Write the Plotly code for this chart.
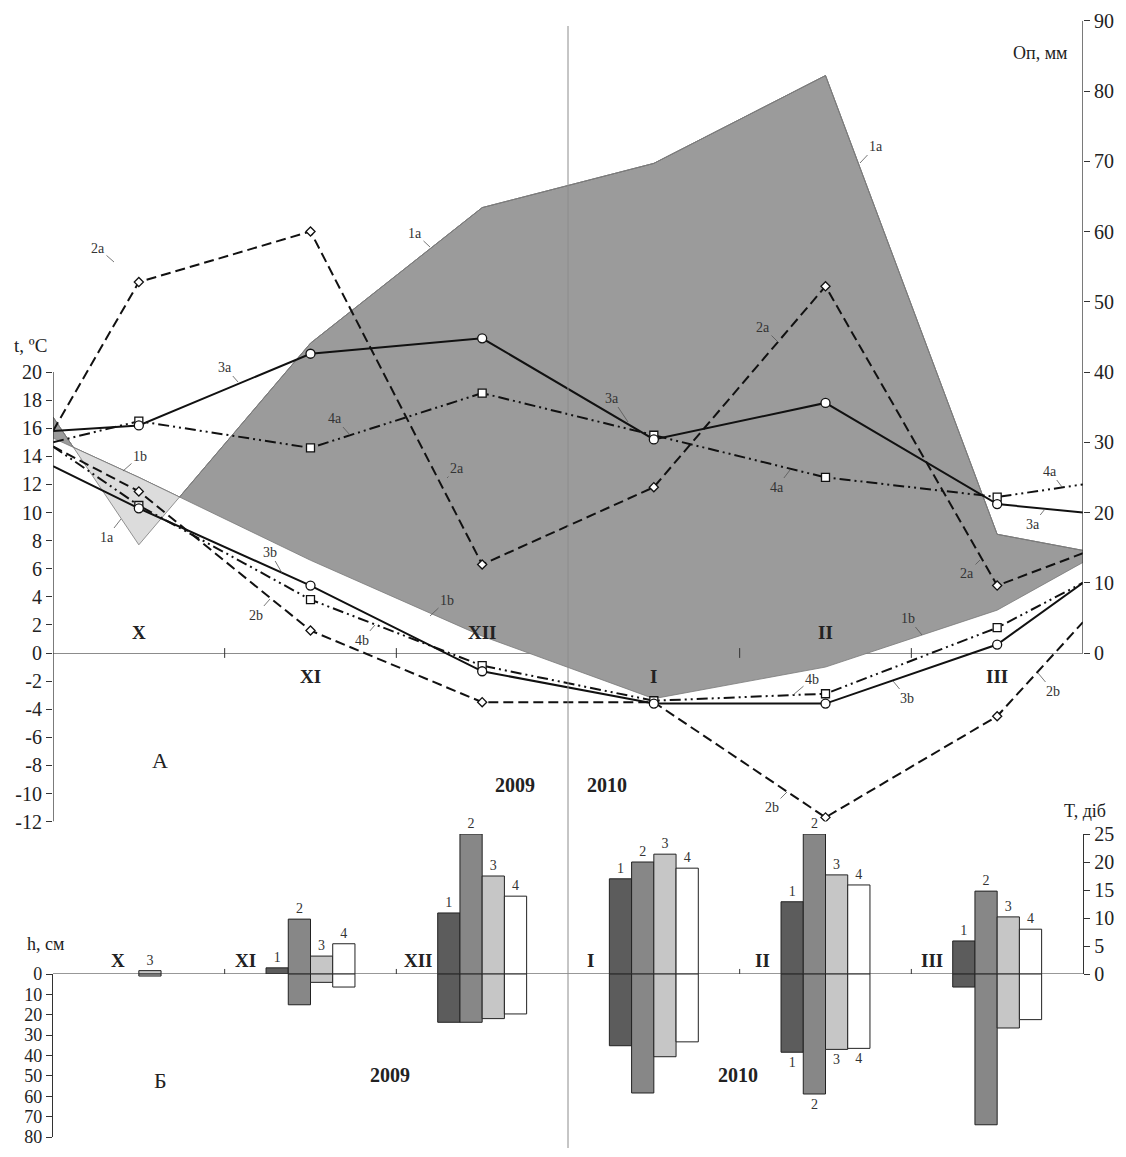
import plotly.graph_objects as go

# ---------------- data ----------------
months = ["X", "XI", "XII", "I", "II", "III"]
month_pos = [0.5, 1.5, 2.5, 3.5, 4.5, 5.5]
line_x = [0, 0.5, 1.5, 2.5, 3.5, 4.5, 5.5, 6]

# temperatures, deg C (panel A)
t_2a = [15.8, 26.4, 30.0, 6.3, 11.8, 26.1, 4.8, 7.1]
t_3a = [15.8, 16.2, 21.3, 22.4, 15.2, 17.8, 10.6, 10.0]
t_4a = [15.0, 16.5, 14.6, 18.5, 15.5, 12.5, 11.1, 12.0]
t_2b = [14.7, 11.5, 1.6, -3.5, -3.5, -11.7, -4.5, 2.2]
t_3b = [13.3, 10.3, 4.8, -1.3, -3.6, -3.6, 0.6, 5.0]
t_4b = [14.7, 10.5, 3.8, -0.9, -3.4, -2.9, 1.8, 5.0]

# series 1a / 1b, mm (right axis)
mm_1a = [33.6, 15.4, 44.1, 63.4, 69.7, 82.2, 16.9, 14.6]
mm_1b = [30.6, 25.0, 13.2, 2.4, -6.5, -2.0, 6.1, 12.9]

# panel B: T (days, up) and h (cm, down) for bars 1..4
T_days = [
    [0, 1.1, 10.9, 17.0, 12.9, 5.9],
    [0, 9.8, 25.0, 20.0, 25.0, 14.8],
    [0.6, 3.2, 17.5, 21.4, 17.7, 10.2],
    [0, 5.4, 13.9, 18.9, 15.9, 8.0],
]
h_cm = [
    [0, 0, 23.7, 35.2, 38.4, 6.4],
    [0, 15.1, 23.7, 58.4, 58.9, 74.0],
    [1.0, 4.1, 21.9, 40.6, 37.0, 26.5],
    [0, 6.4, 19.6, 33.3, 36.5, 22.4],
]
bar_colors = ["#5c5c5c", "#878787", "#c6c6c6", "#ffffff"]

t_ticks = list(range(-12, 21, 2))
mm_ticks = list(range(0, 91, 10))
T_ticks = list(range(0, 26, 5))
h_ticks = list(range(0, 81, 10))

# ---------------- geometry helpers (image pixel coords) ----------------
OFF = 8                      # page body margin
W, H = 1126 - 2 * OFF, 1157 - 2 * OFF
X0, X1 = 53, 1083
PXM = (X1 - X0) / 6.0
T0PX, TPX = 653.0, 14.05
B0PX, BTPX = 974.0, 5.6
HBOT = 1137.0                # pixel of h = 80 cm


def px2x(px):
    return (px - X0) / PXM


def py2t(py):
    return (T0PX - py) / TPX


def px2paper(px):
    return (px - X0) / (X1 - X0)


def py2paper(py):
    return 1 - (py - OFF) / H


def dom(top_px, bot_px):
    return [py2paper(bot_px), py2paper(top_px)]


SERIF = "Liberation Serif"
fig = go.Figure()

# ---------------- area between 1a and 1b ----------------
xs, a_s, b_s = [], [], []
for i in range(len(line_x) - 1):
    xs.append(line_x[i]); a_s.append(mm_1a[i]); b_s.append(mm_1b[i])
    d0 = mm_1a[i] - mm_1b[i]
    d1 = mm_1a[i + 1] - mm_1b[i + 1]
    if d0 * d1 < 0:
        f = d0 / (d0 - d1)
        xi = line_x[i] + f * (line_x[i + 1] - line_x[i])
        yi = mm_1a[i] + f * (mm_1a[i + 1] - mm_1a[i])
        xs.append(xi); a_s.append(yi); b_s.append(yi)
xs.append(line_x[-1]); a_s.append(mm_1a[-1]); b_s.append(mm_1b[-1])
top = [max(p, q) for p, q in zip(a_s, b_s)]

edge = dict(color="#7a7a7a", width=0.8)
fig.add_scatter(x=xs, y=b_s, yaxis="y2", mode="lines", line=edge, hoverinfo="skip")
fig.add_scatter(x=xs, y=top, yaxis="y2", mode="lines", line=edge, fill="tonexty",
                fillcolor="#9b9b9b", hoverinfo="skip")
fig.add_scatter(x=xs, y=a_s, yaxis="y2", mode="lines", line=edge, hoverinfo="skip")
fig.add_scatter(x=xs, y=top, yaxis="y2", mode="lines", line=edge, fill="tonexty",
                fillcolor="#dcdcdc", hoverinfo="skip")

# ---------------- temperature lines ----------------
op = [0] + [1] * 6 + [0]
DASH = "10px,5px"
DDOT = "11px,4px,2px,4px,2px,4px"
styles = [
    (t_2a, DASH, "diamond", 7),
    (t_2b, DASH, "diamond", 7),
    (t_4a, DDOT, "square", 8),
    (t_4b, DDOT, "square", 8),
    (t_3a, "solid", "circle", 9),
    (t_3b, "solid", "circle", 9),
]
for ys, dash, sym, sz in styles:
    fig.add_scatter(
        x=line_x, y=ys, yaxis="y", mode="lines+markers",
        line=dict(color="#111", width=2, dash=dash),
        marker=dict(symbol=sym, size=sz, color="white", opacity=op,
                    line=dict(color="#111", width=1.3)),
        hoverinfo="skip",
    )

# ---------------- bars ----------------
for i in range(4):
    up_txt = [str(i + 1) if v > 0 else "" for v in T_days[i]]
    dn_txt = [str(i + 1) if m == "II" else "" for m in months]
    for vals, ax, tx in ((T_days[i], "y3", up_txt), (h_cm[i], "y4", dn_txt)):
        fig.add_bar(
            x=month_pos, y=vals, yaxis=ax, text=tx,
            marker=dict(color=bar_colors[i],
                        line=dict(color="#222", width=[1 if v > 0 else 0 for v in vals])),
            textposition="outside", cliponaxis=False, constraintext="none",
            textfont=dict(family=SERIF, size=14, color="#333"), hoverinfo="skip")

# ---------------- shapes ----------------
shapes = []
shapes.append(dict(type="line", xref="x", yref="y", x0=0, x1=0, y0=-12, y1=20,
                   line=dict(color="#333", width=1.3)))
shapes.append(dict(type="line", xref="x", yref="y2", x0=6, x1=6, y0=0, y1=90,
                   line=dict(color="#333", width=1.3)))
shapes.append(dict(type="line", xref="x", yref="y3", x0=0, x1=6, y0=0, y1=0,
                   line=dict(color="#333", width=1.2)))
for b in [1, 2, 4, 5]:
    shapes.append(dict(type="line", xref="x", yref="y", x0=b, x1=b, y0=-0.35, y1=0.35,
                       line=dict(color="#333", width=1)))
    shapes.append(dict(type="line", xref="x", yref="y3", x0=b, x1=b, y0=-0.9, y1=0.9,
                       line=dict(color="#333", width=1)))
shapes.append(dict(type="line", xref="x", yref="paper", x0=3, x1=3,
                   y0=py2paper(1148), y1=py2paper(26),
                   line=dict(color="#8c8c8c", width=1)))

# ---------------- annotations ----------------
ann = []


def txt(text, px, py, size=17, bold=False, color="#222"):
    ann.append(dict(text=f"<b>{text}</b>" if bold else text,
                    x=px2paper(px), y=py2paper(py), xref="paper", yref="paper",
                    showarrow=False, font=dict(family=SERIF, size=size, color=color),
                    xanchor="center", yanchor="middle"))


for k, m in enumerate(months):
    txt(m, X0 + month_pos[k] * PXM, 632 if k % 2 == 0 else 676, size=19, bold=True)
for m, px in zip(months, [118, 245, 418, 590, 762, 932]):
    txt(m, px, 960, size=19, bold=True)

txt("А", 160, 760, size=22)
txt("Б", 160, 1080, size=22)
txt("2009", 515, 785, size=20, bold=True)
txt("2010", 607, 785, size=20, bold=True)
txt("2009", 390, 1075, size=20, bold=True)
txt("2010", 738, 1075, size=20, bold=True)
txt("t, ºC", 30, 346, size=19)
txt("Оп, мм", 1040, 53, size=18)
txt("T, діб", 1085, 811, size=18)
txt("h, см", 45, 944, size=18)

leaders = [
    ("2a", 98, 248, 114, 262), ("2a", 457, 468, 447, 478), ("2a", 763, 327, 778, 342),
    ("2a", 967, 573, 980, 560),
    ("3a", 225, 367, 238, 382), ("3a", 612, 398, 628, 422), ("3a", 1033, 524, 1045, 509),
    ("4a", 335, 418, 350, 435), ("4a", 777, 487, 790, 470), ("4a", 1050, 471, 1062, 487),
    ("1a", 107, 537, 121, 519), ("1a", 415, 233, 430, 247), ("1a", 876, 146, 860, 163),
    ("1b", 140, 456, 123, 471), ("1b", 447, 600, 430, 616), ("1b", 908, 618, 922, 635),
    ("3b", 270, 552, 282, 573), ("3b", 907, 698, 893, 681),
    ("2b", 256, 615, 270, 599), ("2b", 772, 807, 787, 792), ("2b", 1053, 691, 1038, 673),
    ("4b", 362, 640, 375, 625), ("4b", 812, 679, 793, 695),
]
for lab, lx, ly, tx, ty in leaders:
    ann.append(dict(text=lab, x=px2x(tx), y=py2t(ty), xref="x", yref="y",
                    ax=lx - tx, ay=ly - ty, showarrow=True, arrowhead=0, arrowwidth=0.8,
                    arrowcolor="#555", standoff=0,
                    font=dict(family=SERIF, size=14, color="#333")))

# ---------------- layout ----------------
tickfont = dict(family=SERIF, size=20, color="#222")
ax_common = dict(ticks="outside", ticklen=6, tickcolor="#333", showgrid=False,
                 ticklabeloverflow="allow")
fig.update_layout(
    width=W, height=H,
    margin=dict(l=X0 - OFF, r=W - (X1 - OFF), t=0, b=0, autoexpand=False),
    plot_bgcolor="white", paper_bgcolor="white",
    showlegend=False, barmode="group", bargap=0.482, bargroupgap=0,
    xaxis=dict(range=[0, 6], visible=False, fixedrange=True),
    yaxis2=dict(domain=dom(20.75, 821.6), range=[-24, 90], anchor="x", side="right",
                tickvals=mm_ticks, ticktext=[str(v) for v in mm_ticks],
                showline=False, zeroline=False, tickfont=tickfont, **ax_common),
    yaxis=dict(overlaying="y2", side="left", anchor="x", range=[-12, 45],
               tickvals=t_ticks, ticktext=[str(v) for v in t_ticks],
               showline=False, zeroline=True, zerolinecolor="#8c8c8c", zerolinewidth=1,
               tickfont=tickfont, **ax_common),
    yaxis3=dict(domain=dom(834, B0PX), range=[0, 25], anchor="x", side="right",
                tickvals=T_ticks, ticktext=[str(v) for v in T_ticks],
                showline=True, linecolor="#333", linewidth=1.3, zeroline=False,
                tickfont=tickfont, **ax_common),
    yaxis4=dict(domain=dom(B0PX, HBOT), range=[80, 0], anchor="x", side="left",
                tickvals=h_ticks, ticktext=[str(v) for v in h_ticks],
                showline=True, linecolor="#333", linewidth=1.3, zeroline=False,
                tickfont=dict(family=SERIF, size=18, color="#222"), **ax_common),
    shapes=shapes, annotations=ann,
)

fig.write_html("out.html")
